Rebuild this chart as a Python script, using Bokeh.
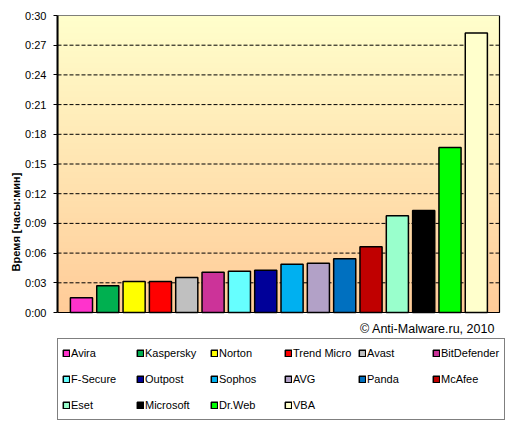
import numpy as np
from bokeh.plotting import figure
from bokeh.models import (Range1d, FixedTicker, Legend, LegendItem, Label,
                          ColumnDataSource)
from bokeh.embed import file_html
from bokeh.resources import INLINE

# ---- data ----
names = ["Avira", "Kaspersky", "Norton", "Trend Micro", "Avast", "BitDefender",
         "F-Secure", "Outpost", "Sophos", "AVG", "Panda", "McAfee",
         "Eset", "Microsoft", "Dr.Web", "VBA"]
minutes = [1.5, 2.7, 3.12, 3.14, 3.53, 4.06, 4.16, 4.26, 4.87, 4.97, 5.44, 6.65,
           9.78, 10.31, 16.66, 28.22]
colors = ["#FF33CC", "#00B050", "#FFFF00", "#FF0000", "#C0C0C0", "#CC3399",
          "#66FFFF", "#000099", "#00B0F0", "#B2A1C7", "#0070C0", "#C00000",
          "#99FFCC", "#000000", "#00FF00", "#FFFFCC"]
y_ticks = [0, 3, 6, 9, 12, 15, 18, 21, 24, 27, 30]
y_tick_labels = ["0:00", "0:03", "0:06", "0:09", "0:12", "0:15", "0:18",
                 "0:21", "0:24", "0:27", "0:30"]
y_label = "Время [часы:мин]"
credit = "© Anti-Malware.ru,  2010"

FONT = "Liberation Sans"

# ---- layout (pixels) ----
W, H = 511, 428
LEFT, TOP = 57, 15
PLOT_W, PLOT_H = 442, 297          # the chart's plotting area
FRAME_W, FRAME_H = W - LEFT, H - TOP  # frame extended to hold legend & credit
Y_MAX = 30.0
x_start = -0.91
x_plot_end = 15.88
px_per_x = PLOT_W / (x_plot_end - x_start)
x_frame_end = x_start + FRAME_W / px_per_x
px_per_y = PLOT_H / Y_MAX
y_frame_start = -(FRAME_H - PLOT_H) / px_per_y

p = figure(frame_width=FRAME_W, frame_height=FRAME_H, output_backend="svg",
           toolbar_location=None, x_axis_location=None,
           x_range=Range1d(x_start, x_frame_end),
           y_range=Range1d(y_frame_start, Y_MAX),
           min_border_left=LEFT, min_border_right=0, min_border_top=TOP,
           min_border_bottom=0)
p.background_fill_color = "white"
p.border_fill_color = "white"
p.outline_line_color = None
p.xgrid.visible = False
p.ygrid.visible = False

# gradient background of the plotting area
n = 200
t = np.linspace(0.0, 1.0, n)
img = np.zeros((n, 1), dtype=np.uint32)
view = img.view(dtype=np.uint8).reshape((n, 1, 4))
view[:, 0, 0] = 255
view[:, 0, 1] = (204 + 51 * t).astype(np.uint8)
view[:, 0, 2] = (153 + 51 * t).astype(np.uint8)
view[:, 0, 3] = 255
p.image_rgba(image=[img], x=x_start, y=0, dw=x_plot_end - x_start, dh=Y_MAX,
             level="image")

# dashed grid lines
gy = y_ticks[1:-1]
p.segment(x0=[x_start] * len(gy), x1=[x_plot_end] * len(gy), y0=gy, y1=gy,
          line_color="black", line_dash="4 2", line_width=1, level="underlay")

src = ColumnDataSource(dict(x=list(range(len(names))), top=minutes,
                            color=colors, name=names))
r = p.vbar(x="x", top="top", width=0.84, bottom=0, source=src,
           fill_color="color", line_color="black", line_width=1.5)

# plotting-area border
p.quad(left=[x_start], right=[x_plot_end], bottom=[0], top=[Y_MAX],
       fill_color=None, line_color="black", line_width=1.2)

# y axis
p.yaxis.bounds = (0, Y_MAX)
p.yaxis.ticker = FixedTicker(ticks=y_ticks)
p.yaxis.major_label_overrides = {t_: l for t_, l in zip(y_ticks, y_tick_labels)}
p.yaxis.major_label_text_font = FONT
p.yaxis.major_label_text_font_size = "11px"
p.yaxis.major_label_text_color = "black"
p.yaxis.major_label_standoff = 7
p.yaxis.major_tick_out = 4
p.yaxis.major_tick_in = 0
p.yaxis.major_tick_line_color = "black"
p.yaxis.minor_tick_line_color = None
p.yaxis.axis_line_color = "black"
p.yaxis.axis_line_width = 2
p.yaxis.axis_label = y_label
p.yaxis.axis_label_text_font = FONT
p.yaxis.axis_label_text_font_size = "11px"
p.yaxis.axis_label_text_font_style = "bold"
p.yaxis.axis_label_text_color = "black"
p.yaxis.axis_label_standoff = 0

# credit line
p.add_layout(Label(x=441, y=FRAME_H - PLOT_H - 16, x_units="screen",
                   y_units="screen", text=credit, text_align="right",
                   text_baseline="middle", text_font=FONT,
                   text_font_size="12.5px", text_color="black"))

# legend
items = [LegendItem(label=nm, renderers=[r], index=i) for i, nm in enumerate(names)]
legend = Legend(items=items, location=(0, 8), orientation="horizontal", ncols=6,
                margin=0, padding=4, spacing=6, glyph_width=8, glyph_height=8,
                label_standoff=1, label_width=59, label_height=20,
                label_text_font=FONT, label_text_font_size="11px",
                label_text_color="black",
                border_line_color="black", border_line_width=1,
                background_fill_color="white", background_fill_alpha=1.0)
p.add_layout(legend, "center")

open("out.html", "w").write(file_html(p, INLINE))
